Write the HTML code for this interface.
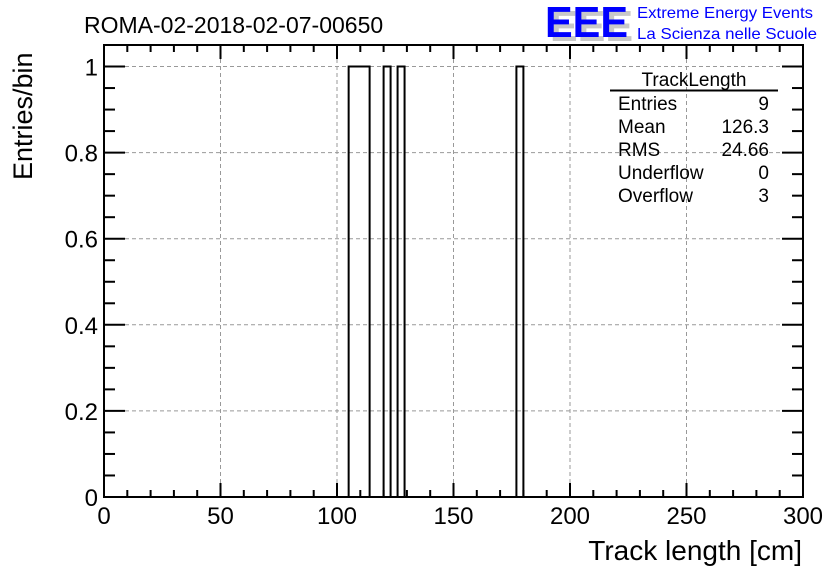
<!DOCTYPE html>
<html><head><meta charset="utf-8"><style>
body{margin:0;background:#fff;}
svg{display:block;font-family:"Liberation Sans",Arial,sans-serif;}
</style></head><body>
<svg width="836" height="572" viewBox="0 0 836 572">
<g id="grid"></g>
<g id="bars"></g>
<rect x="104" y="45" width="699" height="452" fill="none" stroke="#000" stroke-width="2"/>
<g id="ticks"></g>
<g id="labels" font-size="24"></g>
<text x="84" y="33" font-size="23">ROMA-02-2018-02-07-00650</text>
<text x="802" y="560" font-size="28" text-anchor="end">Track length [cm]</text>
<text transform="translate(32,180) rotate(-90)" font-size="27">Entries/bin</text>
<g>
<text x="550" y="41" font-size="44" font-weight="bold" fill="#c8c8c8" textLength="83" lengthAdjust="spacingAndGlyphs">EEE</text>
<text x="545" y="37" font-size="44" font-weight="bold" fill="#0000ff" textLength="83" lengthAdjust="spacingAndGlyphs">EEE</text>
<text x="637" y="18" font-size="16" fill="#0000ff" textLength="176" lengthAdjust="spacingAndGlyphs">Extreme Energy Events</text>
<text x="637" y="39" font-size="16" fill="#0000ff" textLength="180" lengthAdjust="spacingAndGlyphs">La Scienza nelle Scuole</text>
</g>
<g font-size="19">
<text x="694" y="86" text-anchor="middle">TrackLength</text>
<line x1="610" y1="90.5" x2="778" y2="90.5" stroke="#000" stroke-width="2"/>
<text x="618" y="110">Entries</text><text x="769" y="110" text-anchor="end">9</text>
<text x="618" y="133">Mean</text><text x="769" y="133" text-anchor="end">126.3</text>
<text x="618" y="156">RMS</text><text x="769" y="156" text-anchor="end">24.66</text>
<text x="618" y="179">Underflow</text><text x="769" y="179" text-anchor="end">0</text>
<text x="618" y="202">Overflow</text><text x="769" y="202" text-anchor="end">3</text>
</g>
</svg>
<script>
const binLowEdges=[105,108,111,120,126,177];
const binCounts=[1,1,1,1,1,1];
const binWidth=3;
const xTickLabels=[0,50,100,150,200,250,300];
const yTickLabels=[0,0.2,0.4,0.6,0.8,1];
const NS="http://www.w3.org/2000/svg";
const X0=104,X1=803,Y0=497,Y1=45,xmin=0,xmax=300,ymin=0,ymax=1.05;
function sx(v){return X0+(v-xmin)/(xmax-xmin)*(X1-X0);}
function sy(v){return Y0-(v-ymin)/(ymax-ymin)*(Y0-Y1);}
function mk(tag,attrs,parent){const e=document.createElementNS(NS,tag);for(const k in attrs)e.setAttribute(k,attrs[k]);parent.appendChild(e);return e;}
const grid=document.getElementById('grid'),bars=document.getElementById('bars'),ticks=document.getElementById('ticks'),labels=document.getElementById('labels');
xTickLabels.forEach(v=>{if(v>xmin&&v<xmax){const l=mk('line',{x1:sx(v),x2:sx(v),y1:Y1,y2:Y0,stroke:'#999','stroke-dasharray':'4,3','stroke-width':1},grid);

}});
yTickLabels.forEach(v=>{if(v>ymin){const l=mk('line',{x1:X0,x2:X1,y1:sy(v),y2:sy(v),stroke:'#999','stroke-dasharray':'4,3','stroke-width':1},grid);

}});
// histogram outline as a step function over all bins
const nb=Math.round((xmax-xmin)/binWidth);
const counts=new Array(nb).fill(0);
binLowEdges.forEach((lo,i)=>{const k=Math.round((lo-xmin)/binWidth);if(k>=0&&k<nb)counts[k]+=binCounts[i];});
let d=`M${sx(xmin)},${Y0}`;let prev=0;
for(let k=0;k<nb;k++){const x=sx(xmin+k*binWidth);if(counts[k]!==prev){d+=`L${x},${sy(prev)}L${x},${sy(counts[k])}`;prev=counts[k];}}
d+=`L${sx(xmax)},${sy(prev)}`;
const p=mk('path',{d:d,fill:'none',stroke:'#000','stroke-width':2},bars);


for(let v=xmin;v<=xmax;v+=10){const maj=v%50===0;const len=maj?14:7;
mk('line',{x1:sx(v),x2:sx(v),y1:Y0,y2:Y0-len,stroke:'#000','stroke-width':2},ticks);
mk('line',{x1:sx(v),x2:sx(v),y1:Y1,y2:Y1+len,stroke:'#000','stroke-width':2},ticks);}
for(let i=0;i<=21;i++){const v=i*0.05;const maj=i%4===0;const len=maj?21:11;
mk('line',{x1:X0,x2:X0+len,y1:sy(v),y2:sy(v),stroke:'#000','stroke-width':2},ticks);
mk('line',{x1:X1,x2:X1-len,y1:sy(v),y2:sy(v),stroke:'#000','stroke-width':2},ticks);}
xTickLabels.forEach(v=>{const t=mk('text',{x:sx(v),y:524,'text-anchor':'middle'},labels);t.textContent=v;

});
yTickLabels.forEach(v=>{const t=mk('text',{x:98,y:sy(v)+9,'text-anchor':'end'},labels);t.textContent=String(v);

});
</script>
</body></html>
